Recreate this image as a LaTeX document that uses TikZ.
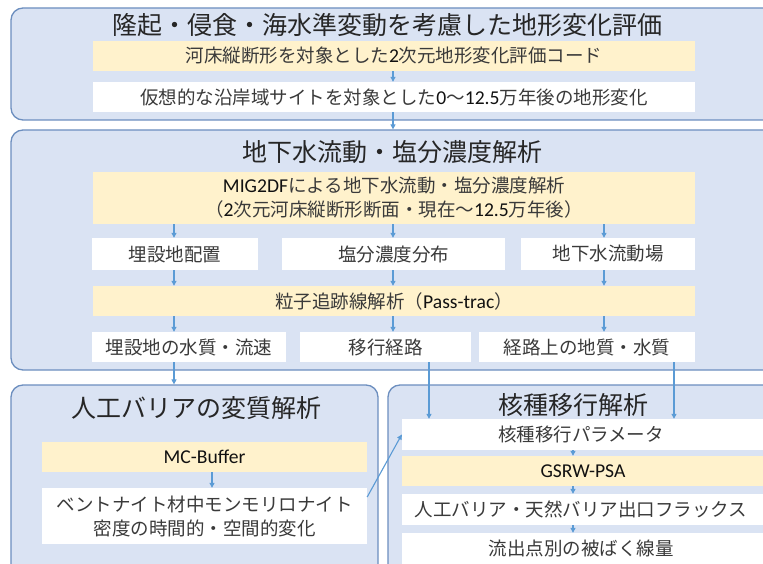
\documentclass[tikz,border=0pt]{standalone}
\usepackage{fontspec}
\setmainfont{Noto Sans CJK JP}
\newfontfamily\latf{Carlito}[Scale=1.06]
\usetikzlibrary{arrows.meta,calc}
\definecolor{contfill}{HTML}{DAE3F3}
\definecolor{bord}{RGB}{108,142,191}
\definecolor{yel}{HTML}{FFF2CC}
\definecolor{arrc}{HTML}{5B9BD5}
\definecolor{txt}{HTML}{3A3A3A}
\definecolor{ttlc}{HTML}{262626}
\definecolor{latc}{HTML}{111111}
\newcommand\lat[1]{{\latf\color{latc}#1}}
\tikzset{
  cont/.style={draw=bord, fill=contfill, rounded corners=12pt, line width=1.3pt, inner sep=0},
  ttl/.style={font=\fontsize{25}{30}\selectfont, text=ttlc, inner sep=0},
  ybox/.style={fill=yel, inner sep=0, font=\fontsize{18.5}{24}\selectfont, text=txt, align=center},
  wbox/.style={fill=white, inner sep=0, font=\fontsize{18.5}{24}\selectfont, text=txt, align=center},
  btxt/.style={inner sep=0, font=\fontsize{18.5}{24}\selectfont, text=txt, align=center},
  arr/.style={draw=arrc, line width=1.1pt, -{Triangle[length=5pt,width=5pt]}},
}
\begin{document}
\begin{tikzpicture}[x=1pt,y=-1pt]
\clip (0,0) rectangle (763,564);
\fill[white] (0,0) rectangle (763,564);
% columns
\coordinate (xa) at (174,0);
\coordinate (xb) at (393,0);
\coordinate (xc) at (604,0);
\coordinate (xd) at (429,0);
\coordinate (xe) at (674,0);
\coordinate (xf) at (212,0);
\coordinate (xg) at (573,0);

% container 1
\node[cont, minimum width=764pt, minimum height=112pt] (c1) at (393,64) {};
\node[ttl] (t1) at (387,25) {隆起・侵食・海水準変動を考慮した地形変化評価};
\node[ybox, minimum width=602pt, minimum height=30pt] (y1) at (394,56) {河床縦断形を対象とした\lat{2}次元地形変化評価コード};
\node[wbox, minimum width=602pt, minimum height=30pt] (w1) at (394,97) {仮想的な沿岸域サイトを対象とした\lat{0}〜\lat{12.5}万年後の地形変化};

% container 2
\node[cont, minimum width=764pt, minimum height=240pt] (c2) at (393,250) {};
\node[ttl] (t2) at (392,152) {地下水流動・塩分濃度解析};
\node[ybox, minimum width=602pt, minimum height=52pt] (y2) at (394,198) {\lat{MIG2DF}による地下水流動・塩分濃度解析\\（\lat{2}次元河床縦断形断面・現在〜\lat{12.5}万年後）};
\node[wbox, minimum width=166pt, minimum height=32pt] (r1a) at (175,254) {埋設地配置};
\node[wbox, minimum width=223pt, minimum height=32pt] (r1b) at (393.5,254) {塩分濃度分布};
\node[wbox, minimum width=174pt, minimum height=32pt] (r1c) at (608,254) {地下水流動場};
\node[ybox, minimum width=602pt, minimum height=30pt] (y3) at (394,301) {粒子追跡線解析（\lat{Pass-trac}）};
\node[wbox, minimum width=194pt, minimum height=30pt] (r2a) at (189,347) {埋設地の水質・流速};
\node[wbox, minimum width=171pt, minimum height=30pt] (r2b) at (385.5,347) {移行経路};
\node[wbox, minimum width=216pt, minimum height=30pt] (r2c) at (587,347) {経路上の地質・水質};

% container 3
\node[cont, minimum width=367pt, minimum height=225pt] (c3) at (194.5,497.5) {};
\node[ttl] (t3) at (196.5,408) {人工バリアの変質解析};
\node[ybox, minimum width=325pt, minimum height=30pt] (y4) at (204.5,457) {\lat{MC-Buffer}};
\node[wbox, minimum width=325pt, minimum height=56pt] (w4) at (204.5,516) {ベントナイト材中モンモリロナイト\\密度の時間的・空間的変化};

% container 4
\node[cont, minimum width=412pt, minimum height=225pt] (c4) at (594,497.5) {};
\node[ttl] (t4) at (573,405) {核種移行解析};
\node[fill=white, inner sep=0, minimum width=388pt, minimum height=31pt] (p1) at (596,434.5) {};
\node[btxt] (p1t) at (581,434.5) {核種移行パラメータ};
\node[fill=yel, inner sep=0, minimum width=388pt, minimum height=30pt] (p2) at (596,471) {};
\node[btxt] (p2t) at (583,471) {\lat{GSRW-PSA}};
\node[fill=white, inner sep=0, minimum width=388pt, minimum height=31pt] (p3) at (596,509.5) {};
\node[btxt] (p3t) at (581,509.5) {人工バリア・天然バリア出口フラックス};
\node[fill=white, inner sep=0, minimum width=388pt, minimum height=60pt] (p4) at (596,563) {};
\node[btxt] (p4t) at (581,548) {流出点別の被ばく線量};

% arrows
\draw[arr] (y1.south -| xb) -- (w1.north -| xb);
\draw[arr] (w1.south -| xb) -- (c2.north -| xb);
\draw[arr] (y2.south -| xa) -- (r1a.north -| xa);
\draw[arr] (y2.south -| xb) -- (r1b.north -| xb);
\draw[arr] (y2.south -| xc) -- (r1c.north -| xc);
\draw[arr] (r1a.south -| xa) -- (y3.north -| xa);
\draw[arr] (r1b.south -| xb) -- (y3.north -| xb);
\draw[arr] (r1c.south -| xc) -- (y3.north -| xc);
\draw[arr] (y3.south -| xa) -- (r2a.north -| xa);
\draw[arr] (y3.south -| xb) -- (r2b.north -| xb);
\draw[arr] (y3.south -| xc) -- (r2c.north -| xc);
\draw[arr] (r2a.south -| xa) -- (c3.north -| xa);
\draw[arr] (r2b.south -| xd) -- (p1.north -| xd);
\draw[arr] (r2c.south -| xe) -- (p1.north -| xe);
\draw[arr] (y4.south -| xf) -- (w4.north -| xf);
\draw[arr] ([yshift=19pt]w4.east) -- (p1.west);
\draw[arr] (p1.south -| xg) -- (p2.north -| xg);
\draw[arr] (p2.south -| xg) -- (p3.north -| xg);
\draw[arr] (p3.south -| xg) -- (p4.north -| xg);
\end{tikzpicture}
\end{document}
